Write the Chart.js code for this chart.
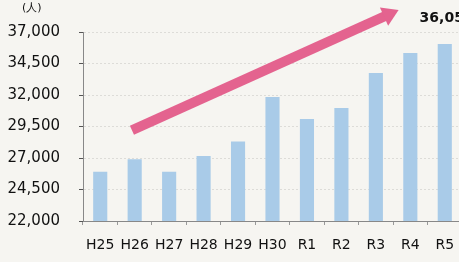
<!DOCTYPE html>
<html>
<head>
<meta charset="utf-8">
<script src="https://cdn.jsdelivr.net/npm/chart.js@4"></script>
<style>
  html, body { margin: 0; padding: 0; background: #f6f5f1; overflow: hidden; }
  #wrap { position: relative; width: 480px; height: 262px; }
</style>
</head>
<body>
<div id="wrap"><canvas id="myChart"></canvas></div>
<script>
const years = ["H25", "H26", "H27", "H28", "H29", "H30", "R1", "R2", "R3", "R4", "R5"];
const people = [25900, 26900, 25900, 27150, 28300, 31850, 30100, 30970, 33750, 35330, 36050];
const yTicks = [22000, 24500, 27000, 29500, 32000, 34500, 37000];
const unitLabel = "(人)";

// trend arrow, in category index / value units
const arrowFrom = { x: 0.92, y: 29200 };
const arrowTo = { x: 8.66, y: 38750 };
const lastLabelAt = { x: 9.27, y: 38050 };

const ctx = document.getElementById("myChart");

const extras = {
    id: "extras",
    afterDatasetsDraw(chart) {
        const c = chart.ctx;
        const xs = chart.scales.x;
        const ys = chart.scales.y;
        const x1 = xs.getPixelForValue(arrowFrom.x), y1 = ys.getPixelForValue(arrowFrom.y);
        const x2 = xs.getPixelForValue(arrowTo.x), y2 = ys.getPixelForValue(arrowTo.y);
        const ang = Math.atan2(y2 - y1, x2 - x1);
        const headLen = 16, headW = 10;
        const bx = x2 - headLen * Math.cos(ang), by = y2 - headLen * Math.sin(ang);

        c.save();
        c.strokeStyle = "#e4638f";
        c.fillStyle = "#e4638f";
        c.lineWidth = 10;
        c.lineCap = "butt";
        c.beginPath();
        c.moveTo(x1, y1);
        c.lineTo(bx + 2 * Math.cos(ang), by + 2 * Math.sin(ang));
        c.stroke();
        c.beginPath();
        c.moveTo(x2, y2);
        c.lineTo(bx + headW * Math.sin(ang), by - headW * Math.cos(ang));
        c.lineTo(bx - headW * Math.sin(ang), by + headW * Math.cos(ang));
        c.closePath();
        c.fill();

        // last value label
        c.fillStyle = "#111";
        c.font = "bold 14px 'DejaVu Sans'";
        c.textAlign = "left";
        c.textBaseline = "middle";
        c.fillText(people[people.length - 1].toLocaleString("en-US"),
            xs.getPixelForValue(lastLabelAt.x), ys.getPixelForValue(lastLabelAt.y));

        // unit
        c.font = "11px 'DejaVu Sans'";
        c.fillText(unitLabel, 22, 8);
        c.restore();
    }
};

new Chart(ctx, {
    type: "bar",
    data: {
        labels: years,
        datasets: [
            {
                data: people,
                backgroundColor: "#a9cbe8",
                categoryPercentage: 1,
                barPercentage: 0.41,
            },
        ],
    },
    options: {
        responsive: true,
        maintainAspectRatio: false,
        animation: false,
        layout: { padding: { top: 32, right: 18, bottom: 0, left: 0 } },
        plugins: {
            legend: { display: false },
            tooltip: { enabled: false },
        },
        scales: {
            x: {
                afterFit: (s) => { s.height = 41; },
                grid: {
                    display: true,
                    drawOnChartArea: false,
                    offset: true,
                    tickLength: 4,
                    color: "#999",
                },
                border: { color: "#888", width: 1 },
                ticks: {
                    padding: 12,
                    color: "#111",
                    font: { family: "'DejaVu Sans'", size: 14 },
                    maxRotation: 0,
                    autoSkip: false,
                },
            },
            y: {
                min: 22000,
                max: 37000,
                afterFit: (s) => { s.width = 83; },
                afterBuildTicks: (s) => { s.ticks = yTicks.map((v) => ({ value: v })); },
                grid: {
                    color: "rgba(0,0,0,0.1)",
                    tickLength: 4,
                    tickColor: "#555",
                },
                border: { color: "#888", width: 1, dash: [2, 2] },
                ticks: {
                    padding: 19,
                    color: "#111",
                    font: { family: "'DejaVu Sans'", size: 15 },
                    callback: (v) => v.toLocaleString("en-US"),
                },
            },
        },
    },
    plugins: [extras],
});
</script>
</body>
</html>
